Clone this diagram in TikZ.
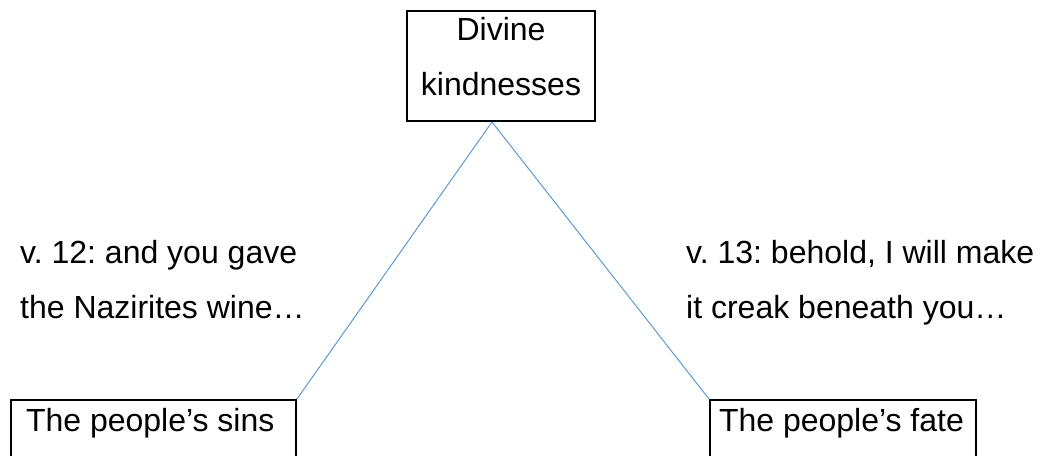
\documentclass[tikz,border=0pt]{standalone}
\usepackage{fontspec}
\setmainfont{Liberation Sans}
\frenchspacing
\definecolor{linkblue}{RGB}{91,155,213}
\tikzset{
  box/.style={draw, line width=2pt, inner sep=0pt},
  link/.style={draw=linkblue, line width=1pt},
  verse/.style={inner sep=0pt, align=left, anchor=base west}
}
\begin{document}
\begin{tikzpicture}[x=1pt, y=-1pt, font=\fontsize{32}{55}\selectfont]
\useasboundingbox (0,0) rectangle (1043,455);

% top box
\node[box, anchor=north, align=center, minimum width=188pt, text height=84pt, text depth=26pt]
  (divine) at (501,10) {Divine\\kindnesses};
\coordinate (apex) at ([xshift=-9pt]divine.south);

% bottom boxes, cut off at the lower edge
\node[box, anchor=north west, align=flush left, text width=254.5pt, inner xsep=15.5pt,
  text height=31pt, text depth=59pt]
  (sins) at (9.5,399) {The people’s sins};
\node[box, anchor=north west, align=flush left, text width=248pt, inner xsep=9pt,
  text height=31pt, text depth=59pt]
  (fate) at (709,399) {The people’s fate};

\draw[link] (apex) -- (sins.north east);
\draw[link] (apex) -- (fate.north west);

% verses
\node[verse] (v12) at (20,318) {v. 12: and you gave\\the Nazirites wine…};
\node[verse] (v13) at (686,318) {v. 13: behold, I will make\\it creak beneath you…};

\end{tikzpicture}
\end{document}
